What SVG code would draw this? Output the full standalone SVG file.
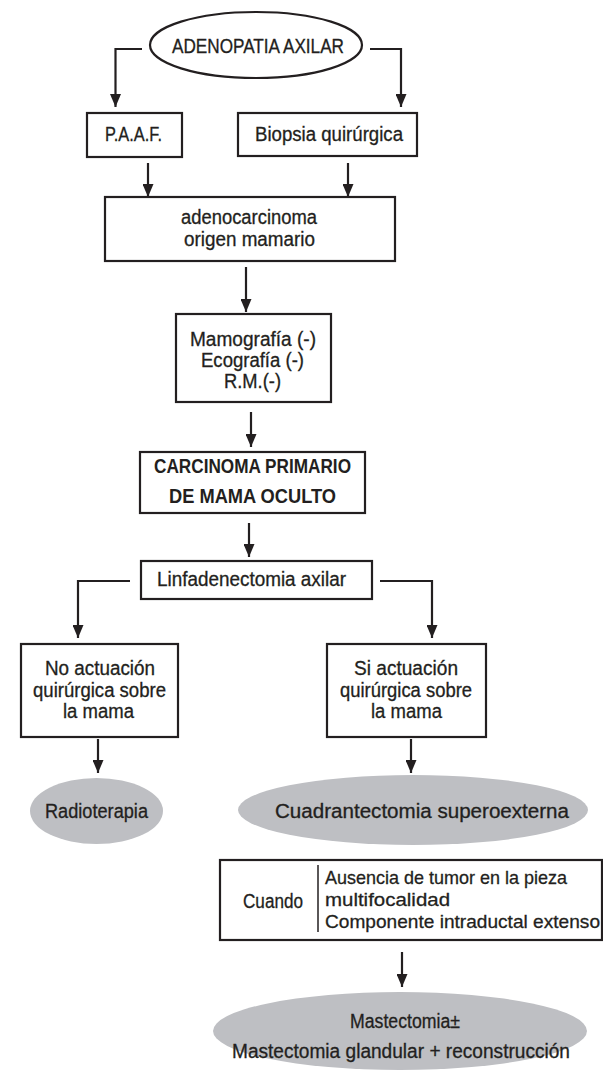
<svg xmlns="http://www.w3.org/2000/svg" width="603" height="1073" viewBox="0 0 603 1073">
  <defs>
    <marker id="head" markerUnits="userSpaceOnUse" markerWidth="13" markerHeight="11" viewBox="0 0 13 11" refX="13" refY="5.5" orient="auto">
      <path d="M0,0 L13,5.5 L0,11 Z" fill="#231f20"/>
    </marker>
  </defs>
  <style>
    .box { fill: #ffffff; stroke: #231f20; stroke-width: 2.2; }
    .oval { fill: #ffffff; stroke: #231f20; stroke-width: 2.2; }
    .shade { fill: #bebfc3; stroke: none; }
    .link { fill: none; stroke: #231f20; stroke-width: 2.2; marker-end: url(#head); }
    .rule { fill: none; stroke: #231f20; stroke-width: 1.5; }
    text { font-family: "Liberation Sans", Arial, sans-serif; font-size: 19.5px; fill: #231f20; stroke: #231f20; stroke-width: 0.3; }
    .caps { font-size: 20px; }
    .small { font-size: 19px; }
    .bold { font-weight: bold; stroke-width: 0; }
  </style>
  <rect width="603" height="1073" fill="#ffffff"/>

  <!-- connectors -->
  <g id="connectors">
    <path class="link" d="M142,49 H115.5 V107"/>
    <path class="link" d="M370,49 H401 V107"/>
    <path class="link" d="M148,163 V197"/>
    <path class="link" d="M348,163 V197"/>
    <path class="link" d="M246,267 V312"/>
    <path class="link" d="M251,412 V447"/>
    <path class="link" d="M249,523 V557"/>
    <path class="link" d="M130,581 H78 V638"/>
    <path class="link" d="M380,581 H432 V638"/>
    <path class="link" d="M98,739 V773"/>
    <path class="link" d="M411,739 V773"/>
    <path class="link" d="M402,952 V987"/>
  </g>

  <g id="adenopatia">
    <ellipse class="oval" cx="256" cy="45" rx="106" ry="33"/>
    <text class="caps" x="258" y="53" text-anchor="middle" textLength="172" lengthAdjust="spacingAndGlyphs">ADENOPATIA AXILAR</text>
  </g>

  <g id="paaf">
    <rect class="box" x="87" y="113" width="95" height="44"/>
    <text class="caps" x="133.5" y="141" text-anchor="middle" textLength="57" lengthAdjust="spacingAndGlyphs">P.A.A.F.</text>
  </g>

  <g id="biopsia">
    <rect class="box" x="238" y="113" width="179" height="43"/>
    <text x="329" y="141" text-anchor="middle" textLength="148" lengthAdjust="spacingAndGlyphs">Biopsia quirúrgica</text>
  </g>

  <g id="adenocarcinoma">
    <rect class="box" x="105" y="197" width="290" height="64"/>
    <text x="249" y="224" text-anchor="middle" textLength="136" lengthAdjust="spacingAndGlyphs">adenocarcinoma</text>
    <text x="249.5" y="246" text-anchor="middle" textLength="131" lengthAdjust="spacingAndGlyphs">origen mamario</text>
  </g>

  <g id="imagen">
    <rect class="box" x="176" y="314" width="155" height="88"/>
    <text x="253" y="346" text-anchor="middle" textLength="126" lengthAdjust="spacingAndGlyphs">Mamografía (-)</text>
    <text x="252.5" y="367" text-anchor="middle" textLength="103" lengthAdjust="spacingAndGlyphs">Ecografía (-)</text>
    <text x="252.5" y="388" text-anchor="middle" textLength="57" lengthAdjust="spacingAndGlyphs">R.M.(-)</text>
  </g>

  <g id="carcinoma-oculto">
    <rect class="box" x="140" y="452" width="225" height="61"/>
    <text class="caps bold" x="252.5" y="473" text-anchor="middle" textLength="197" lengthAdjust="spacingAndGlyphs">CARCINOMA PRIMARIO</text>
    <text class="caps bold" x="252.5" y="503" text-anchor="middle" textLength="167" lengthAdjust="spacingAndGlyphs">DE MAMA OCULTO</text>
  </g>

  <g id="linfadenectomia">
    <rect class="box" x="141" y="561" width="231" height="38"/>
    <text x="157" y="586" textLength="189" lengthAdjust="spacingAndGlyphs">Linfadenectomia axilar</text>
  </g>

  <g id="no-actuacion">
    <rect class="box" x="21" y="644" width="157" height="93"/>
    <text x="100" y="675" text-anchor="middle" textLength="110" lengthAdjust="spacingAndGlyphs">No actuación</text>
    <text x="99.5" y="697" text-anchor="middle" textLength="133" lengthAdjust="spacingAndGlyphs">quirúrgica sobre</text>
    <text x="98.5" y="718" text-anchor="middle" textLength="71" lengthAdjust="spacingAndGlyphs">la mama</text>
  </g>

  <g id="si-actuacion">
    <rect class="box" x="327" y="644" width="159" height="93"/>
    <text x="406" y="675" text-anchor="middle" textLength="104" lengthAdjust="spacingAndGlyphs">Si actuación</text>
    <text x="406" y="697" text-anchor="middle" textLength="132" lengthAdjust="spacingAndGlyphs">quirúrgica sobre</text>
    <text x="406.5" y="718" text-anchor="middle" textLength="71" lengthAdjust="spacingAndGlyphs">la mama</text>
  </g>

  <g id="radioterapia">
    <ellipse class="shade" cx="96.5" cy="811" rx="66.5" ry="33"/>
    <text x="96.5" y="818" text-anchor="middle" textLength="103" lengthAdjust="spacingAndGlyphs">Radioterapia</text>
  </g>

  <g id="cuadrantectomia">
    <ellipse class="shade" cx="413" cy="810" rx="175" ry="35"/>
    <text x="422" y="818" text-anchor="middle" textLength="294" lengthAdjust="spacingAndGlyphs">Cuadrantectomia superoexterna</text>
  </g>

  <g id="cuando">
    <rect class="box" x="220" y="860" width="382" height="80"/>
    <text x="243" y="908" textLength="60" lengthAdjust="spacingAndGlyphs">Cuando</text>
    <line class="rule" x1="318" y1="865" x2="318" y2="932"/>
    <text class="small" x="325" y="884" textLength="242" lengthAdjust="spacingAndGlyphs">Ausencia de tumor en la pieza</text>
    <text class="small" x="325" y="906" textLength="125" lengthAdjust="spacingAndGlyphs">multifocalidad</text>
    <text class="small" x="325" y="928" textLength="275" lengthAdjust="spacingAndGlyphs">Componente intraductal extenso</text>
  </g>

  <g id="mastectomia">
    <ellipse class="shade" cx="400" cy="1031" rx="187" ry="39"/>
    <text x="350" y="1028" textLength="110" lengthAdjust="spacingAndGlyphs">Mastectomia±</text>
    <text x="232" y="1058" textLength="338" lengthAdjust="spacingAndGlyphs">Mastectomia glandular + reconstrucción</text>
  </g>
</svg>
